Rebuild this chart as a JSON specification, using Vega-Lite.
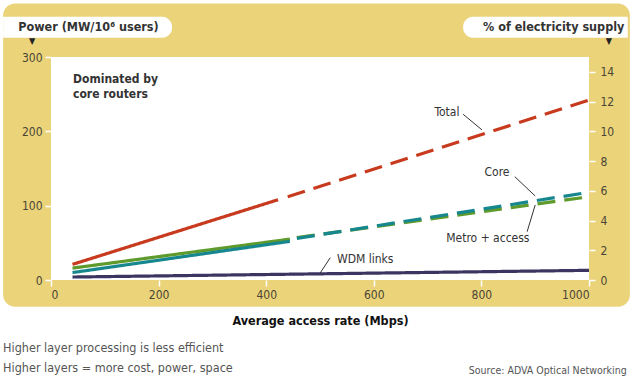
{
  "$schema": "https://vega.github.io/schema/vega-lite/v6.json",
  "width": 538,
  "height": 223,
  "autosize": {"type": "none"},
  "padding": {"left": 51, "top": 57, "right": 51, "bottom": 110},
  "background": "white",
  "config": {
    "view": {"stroke": null},
    "font": "DejaVu Sans Condensed, Liberation Sans, sans-serif",
    "axis": {
      "grid": false,
      "domain": false,
      "tickColor": "white",
      "tickSize": 6,
      "tickWidth": 1.5,
      "labelColor": "#4a4636",
      "labelFont": "DejaVu Sans Condensed, Liberation Sans, sans-serif",
      "labelFontSize": 12
    }
  },
  "datasets": {
    "one": [{}],
    "lines": [
      {"series": "Total", "seg": "solid", "rate": 40, "power": 21},
      {"series": "Total", "seg": "solid", "rate": 422, "power": 108},
      {"series": "Total", "seg": "dashed", "rate": 440, "power": 112},
      {"series": "Total", "seg": "dashed", "rate": 1000, "power": 242},
      {"series": "Metro + access", "seg": "solid", "rate": 40, "power": 16},
      {"series": "Metro + access", "seg": "solid", "rate": 444, "power": 55},
      {"series": "Metro + access", "seg": "dashed", "rate": 457, "power": 57},
      {"series": "Metro + access", "seg": "dashed", "rate": 1000, "power": 112},
      {"series": "Core", "seg": "solid", "rate": 40, "power": 10},
      {"series": "Core", "seg": "solid", "rate": 444, "power": 52},
      {"series": "Core", "seg": "dashed", "rate": 457, "power": 56},
      {"series": "Core", "seg": "dashed", "rate": 1000, "power": 118},
      {"series": "WDM links", "seg": "solid", "rate": 40, "power": 4},
      {"series": "WDM links", "seg": "solid", "rate": 1000, "power": 13}
    ],
    "leaders": [
      {"label": "Total", "x": 766, "y": 223, "x2": 801, "y2": 202},
      {"label": "Core", "x": 862, "y": 139, "x2": 900, "y2": 113},
      {"label": "Metro + access", "x": 885, "y": 65, "x2": 900, "y2": 101},
      {"label": "WDM links", "x": 519, "y": 30, "x2": 500, "y2": 9}
    ],
    "labels": [
      {"label": "Total", "x": 736, "y": 226},
      {"label": "Core", "x": 829, "y": 145},
      {"label": "Metro + access", "x": 812, "y": 56},
      {"label": "WDM links", "x": 584, "y": 28}
    ]
  },
  "layer": [
    {
      "data": {"name": "one"},
      "layer": [
        {
          "mark": {"type": "rect", "color": "#ebd37a", "cornerRadius": 12},
          "encoding": {
            "x": {"datum": -89, "type": "quantitative", "scale": {"domain": [0, 1000], "nice": false}},
            "x2": {"datum": 1076},
            "y": {"datum": 372, "type": "quantitative", "scale": {"domain": [0, 300], "nice": false}},
            "y2": {"datum": -36}
          }
        },
        {
          "mark": {"type": "rect", "color": "white"},
          "encoding": {
            "x": {"datum": 0, "type": "quantitative"},
            "x2": {"datum": 1000},
            "y": {"datum": 0, "type": "quantitative"},
            "y2": {"datum": 300}
          }
        },
        {
          "mark": {"type": "rect", "color": "white", "cornerRadiusTopRight": 10, "cornerRadiusBottomRight": 10},
          "encoding": {
            "x": {"datum": -89, "type": "quantitative"},
            "x2": {"datum": 225},
            "y": {"datum": 354, "type": "quantitative"},
            "y2": {"datum": 326}
          }
        },
        {
          "mark": {"type": "rect", "color": "white", "cornerRadiusTopLeft": 10, "cornerRadiusBottomLeft": 10},
          "encoding": {
            "x": {"datum": 766, "type": "quantitative"},
            "x2": {"datum": 1072},
            "y": {"datum": 354, "type": "quantitative"},
            "y2": {"datum": 326}
          }
        },
        {
          "mark": {"type": "text", "align": "left", "baseline": "middle", "fontWeight": "bold", "fontSize": 12.5, "color": "#333333"},
          "encoding": {
            "x": {"datum": -61, "type": "quantitative"},
            "y": {"datum": 340, "type": "quantitative"},
            "text": {"value": "Power (MW/10⁶ users)"}
          }
        },
        {
          "mark": {"type": "text", "align": "left", "baseline": "middle", "fontWeight": "bold", "fontSize": 12.5, "color": "#333333"},
          "encoding": {
            "x": {"datum": 803, "type": "quantitative"},
            "y": {"datum": 340, "type": "quantitative"},
            "text": {"value": "% of electricity supply"}
          }
        },
        {
          "mark": {"type": "text", "align": "center", "baseline": "middle", "fontSize": 9, "color": "#222222"},
          "encoding": {
            "x": {"datum": -35, "type": "quantitative"},
            "y": {"datum": 321, "type": "quantitative"},
            "text": {"value": "▼"}
          }
        },
        {
          "mark": {"type": "text", "align": "center", "baseline": "middle", "fontSize": 9, "color": "#222222"},
          "encoding": {
            "x": {"datum": 1037, "type": "quantitative"},
            "y": {"datum": 321, "type": "quantitative"},
            "text": {"value": "▼"}
          }
        },
        {
          "data": {"name": "lines"},
          "mark": {"type": "line", "strokeWidth": 3.2},
          "encoding": {
            "x": {"field": "rate", "type": "quantitative", "scale": {"domain": [0, 1000], "nice": false},
              "axis": {"zindex": 1, "values": [0, 200, 400, 600, 800, 1000], "format": "d", "title": "Average access rate (Mbps)", "titleFontSize": 12.5, "titleFontWeight": "bold", "titleColor": "#111111", "titlePadding": 14, "labelPadding": 3}},
            "y": {"field": "power", "type": "quantitative", "scale": {"domain": [0, 300], "nice": false},
              "axis": {"zindex": 1, "values": [0, 100, 200, 300], "title": null, "orient": "left", "labelPadding": 3}},
            "color": {"field": "series", "type": "nominal", "legend": null,
              "scale": {"domain": ["Total", "Metro + access", "Core", "WDM links"], "range": ["#c83a1e", "#5e9a2c", "#17878f", "#3b3561"]}},
            "strokeDash": {"field": "seg", "type": "nominal", "legend": null,
              "scale": {"domain": ["solid", "dashed"], "range": [[1, 0], [18, 9]]}},
            "detail": {"field": "series"}
          }
        },
        {
          "data": {"name": "leaders"},
          "mark": {"type": "rule", "color": "#333333", "strokeWidth": 1},
          "encoding": {
            "x": {"field": "x", "type": "quantitative"},
            "y": {"field": "y", "type": "quantitative"},
            "x2": {"field": "x2"},
            "y2": {"field": "y2"}
          }
        },
        {
          "data": {"name": "labels"},
          "mark": {"type": "text", "align": "center", "baseline": "middle", "fontSize": 12, "color": "#333333"},
          "encoding": {
            "x": {"field": "x", "type": "quantitative"},
            "y": {"field": "y", "type": "quantitative"},
            "text": {"field": "label"}
          }
        },
        {
          "mark": {"type": "text", "align": "left", "baseline": "top", "fontSize": 12, "fontWeight": "bold", "color": "#333333", "lineHeight": 15},
          "encoding": {
            "x": {"datum": 41, "type": "quantitative"},
            "y": {"datum": 277, "type": "quantitative"},
            "text": {"value": ["Dominated by", "core routers"]}
          }
        },
        {
          "mark": {"type": "text", "align": "left", "baseline": "middle", "fontSize": 12.5, "color": "#555555"},
          "encoding": {
            "x": {"datum": -89, "type": "quantitative"},
            "y": {"datum": -92, "type": "quantitative"},
            "text": {"value": "Higher layer processing is less efficient"}
          }
        },
        {
          "mark": {"type": "text", "align": "left", "baseline": "middle", "fontSize": 12.5, "color": "#555555"},
          "encoding": {
            "x": {"datum": -89, "type": "quantitative"},
            "y": {"datum": -118, "type": "quantitative"},
            "text": {"value": "Higher layers = more cost, power, space"}
          }
        },
        {
          "mark": {"type": "text", "align": "right", "baseline": "middle", "fontSize": 10.5, "color": "#555555"},
          "encoding": {
            "x": {"datum": 1070, "type": "quantitative"},
            "y": {"datum": -122, "type": "quantitative"},
            "text": {"value": "Source: ADVA Optical Networking"}
          }
        }
      ]
    },
    {
      "data": {"name": "one"},
      "mark": {"type": "point", "opacity": 0},
      "encoding": {
        "y": {"datum": 0, "type": "quantitative", "scale": {"domain": [0, 15], "nice": false},
          "axis": {"zindex": 1, "orient": "right", "values": [0, 2, 4, 6, 8, 10, 12, 14], "title": null, "labelPadding": 5}}
      }
    }
  ],
  "resolve": {"scale": {"y": "independent"}, "axis": {"y": "independent"}}
}
